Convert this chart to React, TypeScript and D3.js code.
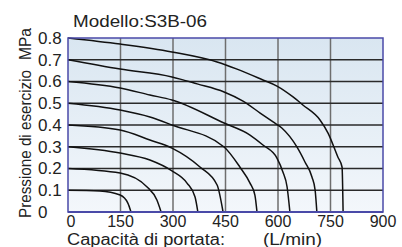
import React from "react";
import * as d3 from "d3";

// flow (L/min) vs pressure (MPa), one curve per set pressure
const flowTicks = [0, 150, 300, 450, 600, 750, 900];
const pressureTicks = [0, 0.1, 0.2, 0.3, 0.4, 0.5, 0.6, 0.7, 0.8];

const curve01 = [[0, 0.1], [91, 0.097], [149, 0.078], [171, 0.041], [180, 0]];
const curve02 = [[0, 0.2], [149, 0.179], [226, 0.115], [254, 0.055], [266, 0]];
const curve03 = [[0, 0.3], [149, 0.271], [234, 0.239], [297, 0.189], [340, 0.133], [363, 0.069], [371, 0]];
const curve04 = [[0, 0.4], [149, 0.377], [234, 0.331], [297, 0.294], [377, 0.207], [426, 0.124], [443, 0]];
const curve05 = [[0, 0.5], [149, 0.469], [234, 0.437], [297, 0.4], [446, 0.299], [491, 0.207], [520, 0.133], [534, 0.078], [540, 0]];
const curve06 = [[0, 0.6], [149, 0.57], [234, 0.538], [297, 0.515], [446, 0.409], [520, 0.354], [557, 0.308], [597, 0.248], [614, 0.184], [626, 0.115], [634, 0]];
const curve07 = [[0, 0.7], [149, 0.657], [297, 0.621], [369, 0.589], [446, 0.552], [500, 0.51], [549, 0.455], [586, 0.414], [611, 0.386], [654, 0.299], [677, 0.23], [697, 0.161], [706, 0.101], [711, 0]];
const curve08 = [[0, 0.8], [149, 0.772], [297, 0.736], [426, 0.69], [483, 0.657], [557, 0.607], [597, 0.579], [643, 0.529], [671, 0.492], [720, 0.423], [743, 0.363], [771, 0.253], [783, 0.207], [786, 0]];

const curves = [curve01, curve02, curve03, curve04, curve05, curve06, curve07, curve08];

const FONT = "'Liberation Sans', Arial, sans-serif";

export default function App() {
  const left = 68, right = 383, top = 38, bottom = 212;

  const x = d3.scaleLinear().domain([0, 900]).range([left, right]);
  const y = d3.scaleLinear().domain([0, 0.8]).range([bottom, top]);

  const line = d3
    .line<number[]>()
    .x((d) => x(d[0]))
    .y((d) => y(d[1]))
    .curve(d3.curveMonotoneX);

  return (
    <svg
      width={402}
      height={247}
      style={{ position: "absolute", left: 0, top: 0, background: "#fff" }}
      fontFamily={FONT}
    >
      <defs>
        <linearGradient id="bg" x1="0" y1="0" x2="0" y2="1">
          <stop offset="0%" stopColor="#d9e6f1" />
          <stop offset="100%" stopColor="#f3f7fb" />
        </linearGradient>
      </defs>

      <rect x={left} y={top} width={right - left} height={bottom - top} fill="url(#bg)" />

      {/* vertical grid */}
      {flowTicks.slice(1, -1).map((t) => (
        <line key={"v" + t} x1={x(t)} x2={x(t)} y1={top} y2={bottom} stroke="#6e6e6e" strokeWidth={1.5} />
      ))}
      {/* horizontal grid */}
      {pressureTicks.slice(1, -1).map((t) => (
        <line key={"h" + t} x1={left} x2={right} y1={y(t)} y2={y(t)} stroke="#2a2a2a" strokeWidth={1.5} />
      ))}

      {curves.map((c, i) => (
        <path key={i} d={line(c) || ""} fill="none" stroke="#111" strokeWidth={1.5} />
      ))}

      <rect x={left} y={top} width={right - left} height={bottom - top} fill="none" stroke="#4a4aa8" strokeWidth={1.5} />
      <line x1={left} x2={right} y1={bottom} y2={bottom} stroke="#4a4aa8" strokeWidth={2} />

      {/* y ticks */}
      {pressureTicks.map((t) => (
        <text key={"yl" + t} x={38} y={y(t)} dy="0.35em" fontSize={17} fill="#222">
          {t === 0 ? "0" : d3.format(".1f")(t)}
        </text>
      ))}

      {/* x ticks */}
      {flowTicks.map((t) => (
        <text key={"xl" + t} x={x(t) + (t === 0 ? 3 : 0)} y={227} textAnchor="middle" fontSize={16} fill="#222">
          {t}
        </text>
      ))}

      <text x={73} y={27} fontSize={16} fill="#222" textLength={134} lengthAdjust="spacingAndGlyphs">
        Modello:S3B-06
      </text>

      <text x={67} y={245} fontSize={16} fill="#222" textLength={158} lengthAdjust="spacingAndGlyphs">
        Capacità di portata:
      </text>
      <text x={263} y={245} fontSize={16} fill="#222" textLength={59} lengthAdjust="spacingAndGlyphs">
        (L/min)
      </text>

      <text transform="translate(31,218) rotate(-90)" fontSize={16} fill="#222" textLength={148} lengthAdjust="spacingAndGlyphs">
        Pressione di esercizio
      </text>
      <text transform="translate(31,60) rotate(-90)" fontSize={16} fill="#222" textLength={32} lengthAdjust="spacingAndGlyphs">
        MPa
      </text>
    </svg>
  );
}
